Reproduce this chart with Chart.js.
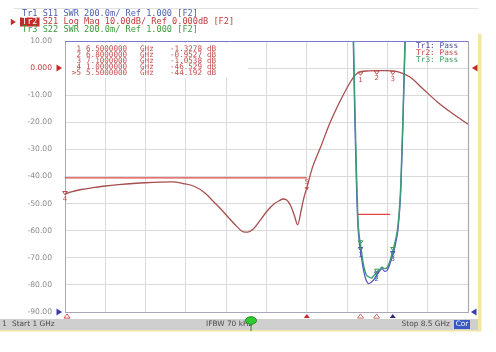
<!DOCTYPE html>
<html lang="en">
<head>
<meta charset="UTF-8">
<title>VNA Filter Sweep</title>
<script src="https://cdn.jsdelivr.net/npm/chart.js"></script>
<style>
    html, body { margin: 0; padding: 0; background: #ffffff; }
    #wrap { width: 496px; height: 352px; position: relative; }
</style>
</head>
<body>
<div id="wrap"><canvas id="vna" width="496" height="352"></canvas></div>
<script>
// sweep 1 GHz .. 8.5 GHz
const startGHz = 1.0;
const stopGHz = 8.5;

// Tr2  S21 Log Mag (dB)
const freqS21 = [1.0, 1.1, 1.3, 1.5, 1.75, 2.0, 2.5, 3.0, 3.2, 3.4, 3.6, 3.75, 3.9, 4.05, 4.2, 4.32, 4.4, 4.5, 4.62, 4.75, 4.9, 5.0, 5.05, 5.12, 5.2, 5.27, 5.33, 5.4, 5.45, 5.5, 5.6, 5.75, 5.93, 6.1, 6.3, 6.4, 6.5, 6.65, 6.8, 6.95, 7.1, 7.23, 7.42, 7.65, 7.93, 8.2, 8.5];
const s21 = [-46.5, -45.8, -44.8, -44.2, -43.5, -43.0, -42.3, -42.0, -42.6, -43.6, -46.0, -49.0, -52.0, -55.3, -58.5, -60.4, -60.5, -59.5, -56.5, -53.0, -50.0, -48.8, -48.3, -48.6, -50.8, -54.5, -57.8, -52.0, -47.5, -44.2, -37.0, -29.5, -20.3, -13.0, -5.5, -2.6, -1.33, -1.05, -0.95, -0.95, -1.05, -1.6, -3.3, -7.4, -12.5, -16.6, -20.7];

// Tr1 S11 SWR and Tr3 S22 SWR (off screen above 3.0)
const freqSwr = [6.30, 6.36, 6.39, 6.42, 6.45, 6.48, 6.50, 6.55, 6.60, 6.65, 6.70, 6.75, 6.80, 6.85, 6.90, 6.95, 7.00, 7.05, 7.10, 7.15, 7.20, 7.25, 7.29, 7.33, 7.38];
const swrS11 = [4.0, 3.1, 2.5, 2.0, 1.65, 1.5, 1.45, 1.32, 1.24, 1.21, 1.22, 1.24, 1.27, 1.30, 1.32, 1.30, 1.31, 1.36, 1.42, 1.50, 1.62, 1.9, 2.4, 3.0, 4.0];
const swrS22 = [4.0, 3.2, 2.6, 2.1, 1.7, 1.55, 1.5, 1.36, 1.28, 1.26, 1.25, 1.27, 1.29, 1.31, 1.33, 1.32, 1.33, 1.38, 1.45, 1.53, 1.65, 1.95, 2.45, 3.05, 4.0];

// limit lines
const limitS21Freq = [1.0, 5.5];
const limitS21 = [-40.5, -40.5];
const limitSwrFreq = [6.45, 7.05];
const limitSwr = [1.72, 1.72];

// markers (coupled on all traces)
const markerIds = ['1', '2', '3', '4', '>5'];
const markerFreq = [6.5, 6.8, 7.1, 1.0, 5.5];
const markerS21 = [-1.3278, -0.9527, -1.0538, -46.529, -44.192];

const yTickLabels = ['10.00', '0.000', '-10.00', '-20.00', '-30.00', '-40.00', '-50.00', '-60.00', '-70.00', '-80.00', '-90.00'];

const headerLines = [
    { tr: 'Tr1', rest: ' S11 SWR 200.0m/ Ref 1.000 [F2]', color: '#4a62ac' },
    { tr: 'Tr2', rest: ' S21 Log Mag 10.00dB/ Ref 0.000dB [F2]', color: '#c23a3a' },
    { tr: 'Tr3', rest: ' S22 SWR 200.0m/ Ref 1.000 [F2]', color: '#3c9c3c' }
];
const legendLines = [
    { text: 'Tr1: Pass', color: '#4a4aa8' },
    { text: 'Tr2: Pass', color: '#c84a4a' },
    { text: 'Tr3: Pass', color: '#3c9c5c' }
];

const pts = (xs, ys) => xs.map((x, i) => ({ x: x, y: ys[i] }));

const mono = '"DejaVu Sans Mono", monospace';
const sans = '"DejaVu Sans", sans-serif';

function tri(ctx, x, y, s, dir, fill, stroke) {
    ctx.beginPath();
    if (dir === 'right') { ctx.moveTo(x - s, y - s); ctx.lineTo(x + s * 0.6, y); ctx.lineTo(x - s, y + s); }
    if (dir === 'left') { ctx.moveTo(x + s, y - s); ctx.lineTo(x - s * 0.6, y); ctx.lineTo(x + s, y + s); }
    if (dir === 'up') { ctx.moveTo(x - s, y + s * 0.7); ctx.lineTo(x, y - s * 0.7); ctx.lineTo(x + s, y + s * 0.7); }
    if (dir === 'down') { ctx.moveTo(x - s, y - s * 0.7); ctx.lineTo(x, y + s * 0.7); ctx.lineTo(x + s, y - s * 0.7); }
    ctx.closePath();
    if (fill) { ctx.fillStyle = fill; ctx.fill(); }
    if (stroke) { ctx.strokeStyle = stroke; ctx.lineWidth = 1; ctx.stroke(); }
}

// everything around the plot: header, marker table, status bar, arrows
const vnaDecor = {
    id: 'vnaDecor',
    afterDraw(chart) {
        const ctx = chart.ctx;
        const a = chart.chartArea;
        const sx = chart.scales.x, sy = chart.scales.y, sw = chart.scales.y2;
        ctx.save();

        // frame: top + right edges
        ctx.strokeStyle = '#7a7ac8';
        ctx.lineWidth = 1.2;
        ctx.beginPath(); ctx.moveTo(a.left, a.top + 0.5); ctx.lineTo(a.right, a.top + 0.5); ctx.stroke();
        ctx.strokeStyle = '#a8a8b8';
        ctx.beginPath(); ctx.moveTo(a.right + 0.5, a.top); ctx.lineTo(a.right + 0.5, a.bottom); ctx.stroke();

        // thin line along the top of the window
        ctx.strokeStyle = '#e2e2e2';
        ctx.lineWidth = 1;
        ctx.beginPath(); ctx.moveTo(14, 8.5); ctx.lineTo(478, 8.5); ctx.stroke();

        // header
        ctx.font = '8.6px ' + mono;
        ctx.textBaseline = 'middle';
        headerLines.forEach((h, i) => {
            const y = 14 + i * 8;
            const x = 22;
            if (i === 1) {
                const w = ctx.measureText(h.tr).width;
                ctx.fillStyle = '#c42a2a';
                ctx.fillRect(x - 2, y - 4.5, w + 4, 9);
                ctx.fillStyle = '#ffffff';
                ctx.fillText(h.tr, x, y);
                tri(ctx, 14, y, 3.2, 'right', '#c42a2a');
            } else {
                ctx.fillStyle = h.color;
                ctx.fillText(h.tr, x, y);
            }
            ctx.fillStyle = h.color;
            ctx.fillText(h.rest, x + ctx.measureText(h.tr).width, y);
        });

        // marker table
        ctx.fillStyle = '#ffffff';
        ctx.fillRect(a.left + 1, a.top + 2, 182, 35);
        ctx.font = '7.6px ' + mono;
        ctx.fillStyle = '#c44c4c';
        markerIds.forEach((m, i) => {
            const y = 49.5 + i * 6;
            ctx.textAlign = 'right';
            ctx.fillText(m, 81, y);
            ctx.textAlign = 'left';
            ctx.fillText(markerFreq[i].toFixed(7), 86, y);
            ctx.fillText('GHz', 140, y);
            ctx.textAlign = 'right';
            const v = markerS21[i];
            ctx.fillText(Math.abs(v) >= 10 ? v.toFixed(3) : v.toFixed(4), 202, y);
            ctx.textAlign = 'left';
            ctx.fillText('dB', 207, y);
        });

        // pass/fail legend
        ctx.font = '7.8px ' + mono;
        legendLines.forEach((l, i) => {
            ctx.fillStyle = l.color;
            ctx.fillText(l.text, 416, 46 + i * 6.8);
        });

        // reference position arrows
        const y0 = sy.getPixelForValue(0);
        const yBot = sy.getPixelForValue(-90);
        tri(ctx, 60, y0, 3.5, 'right', '#c42a2a');
        tri(ctx, a.right + 6, y0, 3.5, 'left', '#c42a2a');
        tri(ctx, 60, yBot, 3.5, 'right', '#3a3ab0');
        tri(ctx, a.right + 5, yBot, 3.5, 'left', '#3a3ab0');

        // marker symbols + numbers on S21
        ctx.font = '7px ' + sans;
        ctx.textAlign = 'center';
        markerFreq.forEach((f, i) => {
            const px = sx.getPixelForValue(f);
            const py = sy.getPixelForValue(markerS21[i]);
            const id = markerIds[i].replace('>', '');
            if (i < 3) {
                tri(ctx, px, py + 2, 2.4, 'down', null, '#c44c4c');
                ctx.fillStyle = '#c44c4c';
                ctx.fillText(id, px, py + 8);
            } else if (i === 3) {
                tri(ctx, px, py - 1, 2.4, 'down', null, '#c44c4c');
                ctx.fillStyle = '#c44c4c';
                ctx.fillText(id, px, py + 5);
            } else {
                tri(ctx, px, py + 1, 2.4, 'down', '#c44c4c');
                ctx.fillStyle = '#c44c4c';
                ctx.fillText(id, px, py - 6);
            }
        });

        // marker symbols on the SWR traces
        [[swrS11, '#4a4ab8'], [swrS22, '#3c9c5c']].forEach(([vals, col]) => {
            markerFreq.slice(0, 3).forEach((f, k) => {
                const j = freqSwr.indexOf(f);
                if (j < 0) return;
                const px = sx.getPixelForValue(f);
                const py = sw.getPixelForValue(vals[j]);
                tri(ctx, px, py - 2, 2.2, 'down', null, col);
                ctx.fillStyle = col;
                ctx.fillText(markerIds[k], px, py + 4);
            });
        });

        // marker flags below the plot
        const yb = a.bottom + 4;
        tri(ctx, sx.getPixelForValue(markerFreq[3]) + 2, yb, 3, 'up', null, '#d05050');
        tri(ctx, sx.getPixelForValue(markerFreq[4]), yb, 3, 'up', '#c42a2a');
        tri(ctx, sx.getPixelForValue(markerFreq[0]), yb, 3, 'up', null, '#d07070');
        tri(ctx, sx.getPixelForValue(markerFreq[1]), yb, 3, 'up', null, '#d07070');
        tri(ctx, sx.getPixelForValue(markerFreq[2]), yb, 3, 'up', '#2a2a78');

        // status bar
        ctx.fillStyle = '#cfcfcf';
        ctx.fillRect(0, 319, 480, 11);
        ctx.fillStyle = '#f2e6a4';
        ctx.fillRect(0, 330, 481, 1.5);
        ctx.fillRect(478, 34, 3.5, 297);
        ctx.font = '7.4px ' + sans;
        ctx.textAlign = 'left';
        ctx.fillStyle = '#4a4a4a';
        ctx.fillText('1', 2, 324.5);
        ctx.fillText('Start ' + startGHz + ' GHz', 12, 324.5);
        ctx.fillText('IFBW 70 kHz', 206, 324.5);
        ctx.textAlign = 'right';
        ctx.fillText('Stop ' + stopGHz + ' GHz', 450, 324.5);
        ctx.fillStyle = '#3858c8';
        ctx.fillRect(454, 320, 16, 9);
        ctx.fillStyle = '#ffffff';
        ctx.textAlign = 'center';
        ctx.fillText('Cor', 462, 324.5);

        // sweep indicator
        ctx.strokeStyle = '#2a7a2a';
        ctx.beginPath(); ctx.moveTo(251, 323); ctx.lineTo(251, 331); ctx.stroke();
        ctx.fillStyle = '#2ecc2e';
        ctx.beginPath(); ctx.ellipse(251, 320.5, 5.5, 3.8, 0, 0, Math.PI * 2); ctx.fill();
        ctx.strokeStyle = '#1f8f1f'; ctx.stroke();

        ctx.restore();
    }
};

const ctx = document.getElementById('vna').getContext('2d');
const chart = new Chart(ctx, {
    type: 'line',
    data: {
        datasets: [
            { data: pts(limitS21Freq, limitS21), borderColor: '#e04545', borderWidth: 1.3, pointRadius: 0, yAxisID: 'y' },
            { data: pts(limitSwrFreq, limitSwr), borderColor: '#e04545', borderWidth: 1.2, pointRadius: 0, yAxisID: 'y2' },
            { data: pts(freqSwr, swrS22), borderColor: '#3c9c78', borderWidth: 1.4, pointRadius: 0, cubicInterpolationMode: 'monotone', yAxisID: 'y2' },
            { data: pts(freqSwr, swrS11), borderColor: '#5858c4', borderWidth: 1.3, pointRadius: 0, cubicInterpolationMode: 'monotone', yAxisID: 'y2' },
            { data: pts(freqS21, s21), borderColor: '#a84e4e', borderWidth: 1.3, pointRadius: 0, cubicInterpolationMode: 'monotone', yAxisID: 'y' }
        ]
    },
    options: {
        responsive: false,
        animation: false,
        layout: { padding: { left: 0, top: 41, right: 28, bottom: 40 } },
        plugins: { legend: { display: false }, tooltip: { enabled: false } },
        scales: {
            x: {
                type: 'linear', min: startGHz, max: stopGHz,
                afterBuildTicks: s => {
                    const step = (stopGHz - startGHz) / 10;
                    s.ticks = Array.from({ length: 11 }, (_, i) => ({ value: startGHz + i * step }));
                },
                afterFit: s => { s.height = 0; },
                ticks: { display: false },
                grid: { color: '#dadada', drawTicks: false },
                border: { color: '#a8a8b8' }
            },
            y: {
                min: -90, max: 10,
                afterFit: s => { s.width = 65; },
                ticks: {
                    stepSize: 10,
                    padding: 13,
                    font: { family: 'DejaVu Sans', size: 7.6 },
                    color: c => (c.tick && c.tick.value === 0) ? '#c23a3a' : '#8c8c8c',
                    callback: v => yTickLabels[Math.round((10 - v) / 10)]
                },
                grid: { color: '#dadada', drawTicks: false },
                border: { color: '#a8a8b8' }
            },
            y2: { min: 1.0, max: 3.0, display: false }
        }
    },
    plugins: [vnaDecor]
});
</script>
</body>
</html>
